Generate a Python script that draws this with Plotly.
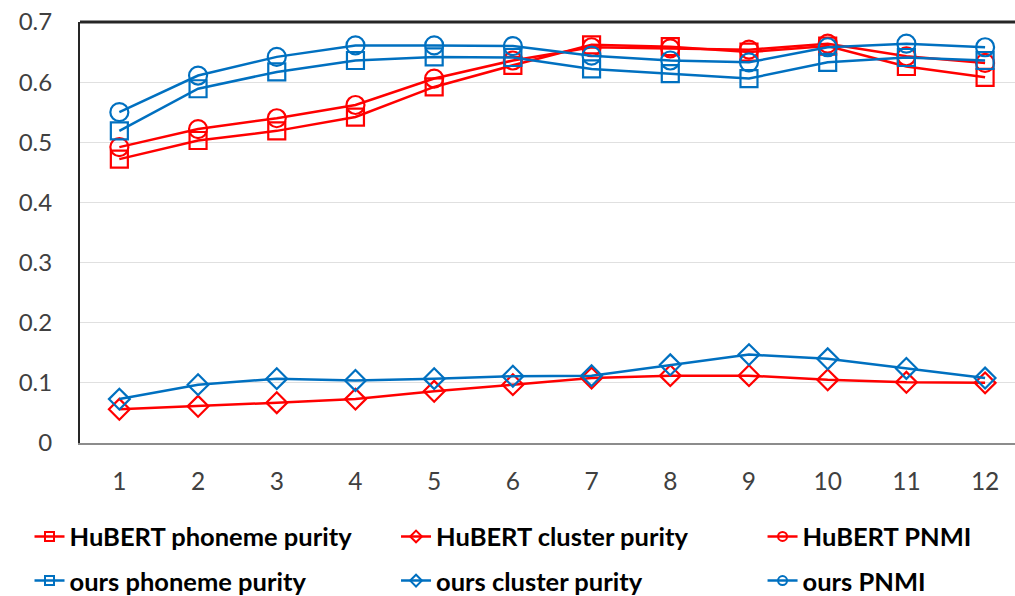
import plotly.graph_objects as go

layers = [1, 2, 3, 4, 5, 6, 7, 8, 9, 10, 11, 12]

hubert_phoneme_purity = [0.472, 0.503, 0.519, 0.542, 0.592, 0.628, 0.662, 0.659, 0.650, 0.660, 0.626, 0.608]
hubert_cluster_purity = [0.056, 0.061, 0.067, 0.073, 0.086, 0.097, 0.108, 0.112, 0.112, 0.105, 0.101, 0.100]
hubert_pnmi = [0.492, 0.522, 0.540, 0.562, 0.606, 0.636, 0.658, 0.656, 0.654, 0.664, 0.643, 0.632]
ours_phoneme_purity = [0.519, 0.589, 0.617, 0.636, 0.642, 0.641, 0.622, 0.614, 0.606, 0.633, 0.641, 0.636]
ours_cluster_purity = [0.073, 0.097, 0.107, 0.104, 0.107, 0.111, 0.112, 0.130, 0.147, 0.140, 0.124, 0.108]
ours_pnmi = [0.550, 0.611, 0.642, 0.661, 0.661, 0.660, 0.644, 0.636, 0.633, 0.658, 0.664, 0.658]

y_ticks = [0, 0.1, 0.2, 0.3, 0.4, 0.5, 0.6, 0.7]
y_tick_labels = ["0", "0.1", "0.2", "0.3", "0.4", "0.5", "0.6", "0.7"]

RED = "#FF0000"
BLUE = "#0070C0"

# name, values, colour, symbol, marker size, legend column
series = [
    ("HuBERT phoneme purity", hubert_phoneme_purity, RED, "square-open", 17, "legend"),
    ("HuBERT cluster purity", hubert_cluster_purity, RED, "diamond-open", 16, "legend2"),
    ("HuBERT PNMI", hubert_pnmi, RED, "circle-open", 18, "legend3"),
    ("ours phoneme purity", ours_phoneme_purity, BLUE, "square-open", 17, "legend"),
    ("ours cluster purity", ours_cluster_purity, BLUE, "diamond-open", 16, "legend2"),
    ("ours PNMI", ours_pnmi, BLUE, "circle-open", 18, "legend3"),
]

fig = go.Figure()
for name, vals, color, sym, size, leg in series:
    fig.add_trace(go.Scatter(
        x=layers, y=vals, name=name, mode="lines+markers", showlegend=False,
        line=dict(color=color, width=2.5),
        marker=dict(symbol=sym, size=size, color=color, line=dict(color=color, width=2.2)),
    ))

# legend entries (small markers, as in the reference)
for name, vals, color, sym, size, leg in series:
    fig.add_trace(go.Scatter(
        x=[None], y=[None], name=name, mode="lines+markers", legend=leg,
        legendgroup=name,
        line=dict(color=color, width=2.5),
        marker=dict(symbol=sym, size=9, color=color, line=dict(color=color, width=2)),
    ))

legend_font = dict(family="Lato", size=25.5, color="#000000", weight="bold")
legend_common = dict(orientation="v", yanchor="top", y=-0.1672, xanchor="left",
                     font=legend_font, tracegroupgap=8, bgcolor="rgba(0,0,0,0)",
                     itemwidth=30)

fig.update_layout(
    width=1015, height=596,
    margin=dict(l=80, r=0, t=22, b=153, autoexpand=False),
    paper_bgcolor="white", plot_bgcolor="white",
    font=dict(family="Lato", size=24, color="#404040"),
    xaxis=dict(
        range=[0.5, 12.38], tickmode="array", tickvals=layers,
        ticktext=[str(v) for v in layers], automargin=False,
        showgrid=False, zeroline=False, showline=True,
        linecolor="#8c8c8c", linewidth=2, ticks="", ticklabelstandoff=16,
        ticklabeloverflow="allow",
        tickfont=dict(family="Lato", size=24.5, color="#404040"),
    ),
    yaxis=dict(
        range=[0, 0.7], tickmode="array", tickvals=y_ticks, ticktext=y_tick_labels,
        showgrid=True, gridcolor="#e0e0e0", gridwidth=1, zeroline=False,
        showline=True, linecolor="#262626", linewidth=2, ticks="", automargin=False,
        ticklabelstandoff=21, ticklabeloverflow="allow",
        tickfont=dict(family="Lato", size=24, color="#404040"),
    ),
    legend=dict(x=-0.054, **legend_common),
    legend2=dict(x=0.338, **legend_common),
    legend3=dict(x=0.730, **legend_common),
)

fig.add_shape(type="line", xref="paper", yref="paper", x0=0, x1=1, y0=1, y1=1,
              line=dict(color="#262626", width=3))

# remove the default 8px page margin so the 1015x596 figure fills the window
fig.write_html("out.html", config={"displayModeBar": False},
               post_script="document.body.style.margin='0px';")
